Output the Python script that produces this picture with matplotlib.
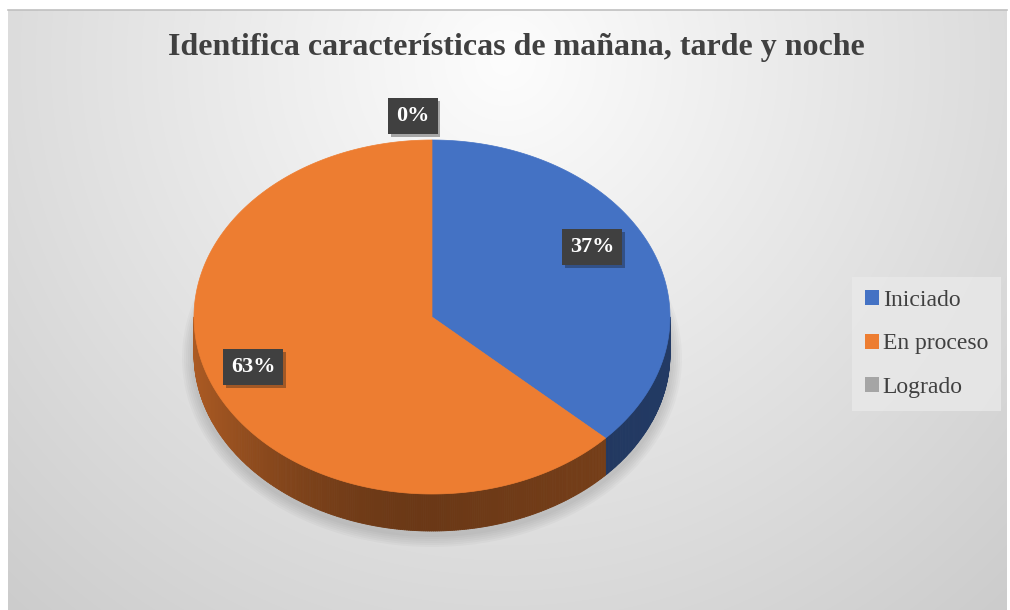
import numpy as np
import matplotlib
matplotlib.use("Agg")
import matplotlib.pyplot as plt
from matplotlib.patches import Polygon, Ellipse, Patch
from matplotlib.collections import PolyCollection
import matplotlib.patheffects as pe

# data
categories = ["Iniciado", "En proceso", "Logrado"]
values = [37, 63, 0]
colors = ["#4472C4", "#ED7D31", "#A5A5A5"]
title = "Identifica características de mañana, tarde y noche"

W, H = 1010, 610
fig = plt.figure(figsize=(W / 100, H / 100), dpi=100)
ax = fig.add_axes([0, 0, 1, 1])
ax.set_xlim(0, W)
ax.set_ylim(H, 0)
ax.axis("off")

# background gradient (chart area)
x0, y0, x1, y1 = 8, 10, 1007, 610
yy, xx = np.mgrid[y0:y1, x0:x1]
d = np.sqrt((xx - 505) ** 2 + (yy - 60) ** 2)
g = np.clip(253 - 0.066 * d, 200, 253) / 255.0
img = np.dstack([g, g, g])
ax.imshow(img, extent=(x0, x1, y1, y0), zorder=0, aspect="auto")
ax.plot([x0, x1], [y0, y0], color="#c0c0c0", lw=1.2, zorder=1)

# pie geometry (pixels)
cx, cy, a, b, depth = 432, 317, 238, 177, 37


def pt(theta):
    t = np.radians(theta)
    return cx + a * np.sin(t), cy - b * np.cos(t)


# soft shadow
for k in range(12, 0, -2):
    ax.add_patch(Ellipse((cx, cy + depth + 4), 2 * (a + k), 2 * (b + k),
                         fc="#000000", ec="none", alpha=0.025, zorder=1))

total = sum(values)
starts = np.concatenate([[0], np.cumsum(values)[:-1]]) / total * 360
ends = np.cumsum(values) / total * 360


def shade(theta):
    s = np.sin(np.radians(theta))
    return 0.45 + 0.27 * max(0, -s) ** 2 + 0.06 * max(0, s)


# sides
for t0, t1, col in zip(starts, ends, colors):
    lo, hi = max(t0, 90), min(t1, 270)
    if hi <= lo:
        continue
    base = np.array(matplotlib.colors.to_rgb(col))
    ts = np.linspace(lo, hi, int((hi - lo) * 2) + 2)
    quads, cols = [], []
    for ta, tb in zip(ts[:-1], ts[1:]):
        xa, ya = pt(ta)
        xb, yb = pt(tb)
        quads.append([(xa, ya), (xb, yb), (xb, yb + depth), (xa, ya + depth)])
        cols.append(base * shade((ta + tb) / 2))
    ax.add_collection(PolyCollection(quads, facecolors=cols, edgecolors=cols,
                                     linewidths=0.6, zorder=2))

# top faces
for t0, t1, col in zip(starts, ends, colors):
    if t1 - t0 <= 0:
        continue
    ts = np.linspace(t0, t1, int((t1 - t0) * 2) + 2)
    verts = [(cx, cy)] + [pt(t) for t in ts]
    ax.add_patch(Polygon(verts, closed=True, fc=col, ec=col, lw=0.5, zorder=3))

# data labels
for t0, t1, v in zip(starts, ends, values):
    pct = f"{round(v / total * 100)}%"
    mid = (t0 + t1) / 2
    if v == 0:
        lx, ly = pt(t0)
        lx, ly = lx - 19, ly - 24
    else:
        tm = np.radians(mid)
        lx = cx + 0.776 * a * np.sin(tm) - 9.5
        ly = cy - 0.853 * b * np.cos(tm) - 10
    t = ax.text(lx, ly, pct, ha="center", va="center", color="white",
                fontsize=16, fontweight="bold", family="Liberation Serif",
                zorder=6,
                bbox=dict(boxstyle="square,pad=0.36", fc="#404040", ec="none"))
    t.get_bbox_patch().set_path_effects(
        [pe.SimplePatchShadow(offset=(2, -2), alpha=0.35), pe.Normal()])

ax.text(516, 47, title, ha="center", va="center", fontsize=23,
        fontweight="bold", family="Liberation Serif", color="#404040", zorder=6)

handles = [Patch(fc=c, ec="none") for c in colors]
leg = ax.legend(handles, categories, loc="center left",
                bbox_to_anchor=(852 / W, 1 - 344 / H),
                bbox_transform=fig.transFigure, frameon=True,
                prop={"family": "Liberation Serif", "size": 17},
                handlelength=0.6, handleheight=0.6, handletextpad=0.15,
                labelspacing=0.95, borderpad=0.55, borderaxespad=0,
                fancybox=False)
leg.get_frame().set_facecolor("#e9e9e9")
leg.get_frame().set_edgecolor("none")
for txt in leg.get_texts():
    txt.set_color("#404040")

fig.savefig("out.png", dpi=100)
